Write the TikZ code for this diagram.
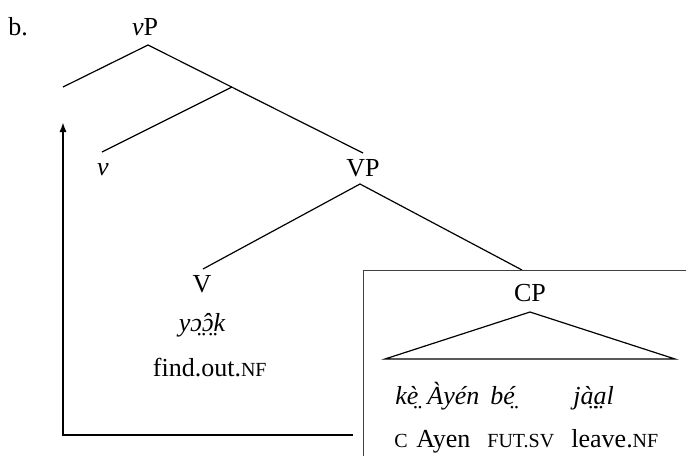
\documentclass[tikz,border=0pt]{standalone}
\usepackage{fontspec}
\setmainfont{Liberation Serif}
\usetikzlibrary{arrows.meta}
\newcommand{\smc}[1]{{\fontsize{10}{11}\selectfont #1}}

\begin{document}
\begin{tikzpicture}[x=0.5pt, y=-0.5pt,
  cat/.style={font=\fontsize{13}{15}\selectfont, inner sep=0pt},
  word/.style={font=\fontsize{13}{15}\selectfont\itshape, inner sep=0pt},
  branch/.style={line width=0.6pt},
  frame/.style={line width=0.5pt, draw=black!75},
  move/.style={line width=1pt, -{Latex[length=5pt, width=3.6pt]}}]
\useasboundingbox (0,0) rectangle (686,456);
% labels
\node[cat] (ex) at (18,27) {b.};
\node[cat] (vP) at (145,27) {\textit{v}P};
\node[cat] (v) at (103,170) {\textit{v}};
\node[cat] (VP) at (363,168) {VP};
\node[cat] (V) at (202,284) {V};
\node[word] (verb) at (202,325) {yɔ̤̂ɔ̤k};
\node[cat, anchor=east] (verbgl) at (267,368) {find.out.\smc{NF}};
\node[cat] (CP) at (530,293) {CP};
% tree
\coordinate (vPtop) at (148,45);
\coordinate (spec) at (63,87);
\coordinate (vbar) at (232,87);
\coordinate (vtop) at (102,152);
\coordinate (VPtop) at (363,153);
\coordinate (VPbot) at (360,184);
\coordinate (Vtop) at (203,269);
\coordinate (CPedge) at (522,270);
\draw[branch] (spec) -- (vPtop) -- (VPtop);
\draw[branch] (vbar) -- (vtop);
\draw[branch] (Vtop) -- (VPbot) -- (CPedge);
% embedded clause
\coordinate (boxbl) at (363,456);
\coordinate (boxtl) at (363,270);
\coordinate (boxtr) at (686,270);
\draw[frame] (boxbl) -- (boxtl) -- (boxtr);
\coordinate (tri) at (530,312);
\coordinate (tril) at (385,359);
\coordinate (trir) at (675,359);
\draw[branch] (tril) -- (tri) -- (trir) -- cycle;
\node[word, anchor=base west] (w1) at (395,404) {kè̤};
\node[word, anchor=base west] (w2) at (427,404) {Àyén};
\node[word, anchor=base west] (w3) at (490,404) {bé̤};
\node[word, anchor=base west] (w4) at (573,404) {jà̤a̤l};
\node[cat, anchor=base west] (g1) at (394,447) {\smc{C}};
\node[cat, anchor=base west] (g2) at (416,447) {Ayen};
\node[cat, anchor=base west] (g3) at (487,447) {\smc{FUT.SV}};
\node[cat, anchor=base west] (g4) at (571,447) {leave.\smc{NF}};
% head movement
\coordinate (mvstart) at (353,435);
\coordinate (mvcorner) at (63,435);
\coordinate (mvend) at (63,122);
\draw[move] (mvstart) -- (mvcorner) -- (mvend);
\end{tikzpicture}
\end{document}
